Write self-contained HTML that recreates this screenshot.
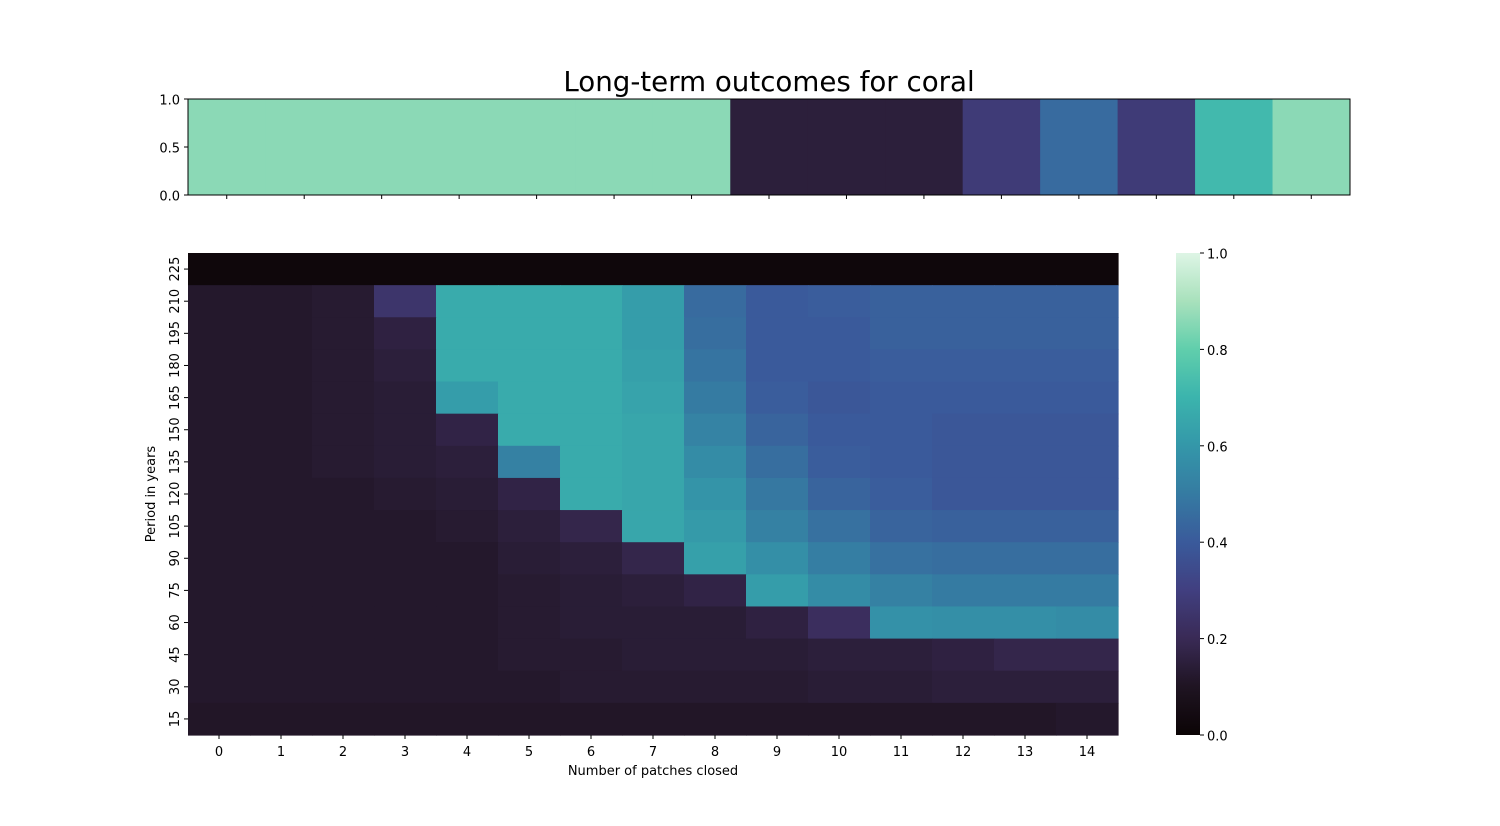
<!DOCTYPE html>
<html><head><meta charset="utf-8"><style>
body{margin:0;background:#fff;}
svg{display:block;font-family:"DejaVu Sans","Liberation Sans",sans-serif;}
</style></head><body>
<svg id="fig" width="1500" height="826" xmlns="http://www.w3.org/2000/svg">
<text x="769" y="91" font-size="27.7" text-anchor="middle" fill="#000">Long-term outcomes for coral</text>
<g id="topStrip"></g>
<g id="heatG"></g>
<g id="cbarG"></g>
<text x="653" y="775" font-size="13" text-anchor="middle">Number of patches closed</text>
<text transform="translate(155,494) rotate(-90)" font-size="13" text-anchor="middle">Period in years</text>
</svg>
<script>
const columns=[0,1,2,3,4,5,6,7,8,9,10,11,12,13,14];
const periods=[225,210,195,180,165,150,135,120,105,90,75,60,45,30,15];
const stripValues=[0.86,0.86,0.86,0.86,0.86,0.86,0.86,0.15,0.15,0.15,0.28,0.45,0.28,0.72,0.86];
const stripTicks=[0.0,0.5,1.0];
const cbarTicks=[0.0,0.2,0.4,0.6,0.8,1.0];
const r225=[0.02,0.02,0.02,0.02,0.02,0.02,0.02,0.02,0.02,0.02,0.02,0.02,0.02,0.02,0.02];
const r210=[0.12,0.12,0.13,0.25,0.67,0.67,0.67,0.62,0.45,0.40,0.41,0.42,0.42,0.42,0.42];
const r195=[0.12,0.12,0.13,0.16,0.67,0.67,0.67,0.62,0.46,0.40,0.40,0.42,0.42,0.42,0.42];
const r180=[0.12,0.12,0.13,0.15,0.67,0.67,0.67,0.63,0.48,0.40,0.40,0.41,0.41,0.41,0.41];
const r165=[0.12,0.12,0.13,0.14,0.62,0.67,0.67,0.64,0.50,0.41,0.39,0.40,0.40,0.40,0.40];
const r150=[0.12,0.12,0.13,0.14,0.17,0.67,0.67,0.65,0.53,0.43,0.40,0.40,0.39,0.39,0.39];
const r135=[0.12,0.12,0.13,0.14,0.15,0.52,0.67,0.65,0.56,0.46,0.41,0.40,0.39,0.39,0.39];
const r120=[0.12,0.12,0.12,0.13,0.14,0.17,0.67,0.65,0.59,0.49,0.43,0.41,0.39,0.39,0.39];
const r105=[0.12,0.12,0.12,0.12,0.13,0.15,0.18,0.65,0.61,0.52,0.47,0.43,0.42,0.42,0.42];
const r90=[0.12,0.12,0.12,0.12,0.12,0.14,0.15,0.18,0.63,0.57,0.51,0.47,0.46,0.46,0.46];
const r75=[0.12,0.12,0.12,0.12,0.12,0.13,0.14,0.15,0.17,0.62,0.56,0.52,0.50,0.50,0.50];
const r60=[0.12,0.12,0.12,0.12,0.12,0.13,0.14,0.14,0.14,0.16,0.22,0.58,0.57,0.57,0.56];
const r45=[0.12,0.12,0.12,0.12,0.12,0.13,0.13,0.14,0.14,0.14,0.15,0.15,0.16,0.18,0.18];
const r30=[0.12,0.12,0.12,0.12,0.12,0.12,0.13,0.13,0.13,0.13,0.14,0.14,0.15,0.15,0.15];
const r15=[0.11,0.11,0.11,0.11,0.11,0.11,0.11,0.11,0.11,0.11,0.11,0.11,0.11,0.11,0.12];
const grid=[r225,r210,r195,r180,r165,r150,r135,r120,r105,r90,r75,r60,r45,r30,r15];

const stops=[[0,"#0B0405"],[0.1,"#1F1422"],[0.2,"#392A55"],[0.3,"#413F80"],[0.4,"#3A5A9B"],[0.5,"#357BA2"],[0.6,"#3497A9"],[0.7,"#3BB4AD"],[0.8,"#60CEAC"],[0.9,"#A8E1BC"],[1,"#DEF5E5"]];
function hex(h){return [1,3,5].map(i=>parseInt(h.substr(i,2),16));}
function cmap(v){v=Math.max(0,Math.min(1,v));for(let i=1;i<stops.length;i++){if(v<=stops[i][0]){const a=stops[i-1],b=stops[i];const t=(v-a[0])/(b[0]-a[0]);const A=hex(a[1]),B=hex(b[1]);return "rgb("+A.map((x,k)=>Math.round(x+(B[k]-x)*t)).join(",")+")";}}return stops[stops.length-1][1];}
const NS="http://www.w3.org/2000/svg";
function mk(tag,attrs,parent,text){const e=document.createElementNS(NS,tag);for(const k in attrs)e.setAttribute(k,attrs[k]);if(text!==undefined)e.textContent=text;parent.appendChild(e);return e;}

// top strip
const stripG=document.getElementById('topStrip');
const TX0=188,TX1=1350,TY0=99,TY1=195;
const sx=i=>TX0+(TX1-TX0)*i/stripValues.length;
const sy=v=>TY1-(TY1-TY0)*v;
stripValues.forEach((v,i)=>{
 const r=mk('rect',{x:sx(i),y:TY0,width:sx(i+1)-sx(i)+0.5,height:TY1-TY0,fill:cmap(v)},stripG);
 
 
 const t=mk('line',{x1:(sx(i)+sx(i+1))/2,x2:(sx(i)+sx(i+1))/2,y1:TY1,y2:TY1+4,stroke:'#000'},stripG);
 
 
});
mk('rect',{x:TX0,y:TY0,width:TX1-TX0,height:TY1-TY0,fill:'none',stroke:'#000','stroke-width':1},stripG);
stripTicks.forEach(v=>{
 mk('line',{x1:TX0-4,x2:TX0,y1:sy(v),y2:sy(v),stroke:'#000'},stripG);
 const t=mk('text',{x:TX0-8,y:sy(v)+5.5,'font-size':13,'text-anchor':'end'},stripG,v.toFixed(1));
 
 
});

// heatmap
const heatG=document.getElementById('heatG');
const HX0=188,HX1=1118,HY0=253,HY1=735;
const cw=(HX1-HX0)/columns.length,ch=(HY1-HY0)/periods.length;
const hx=i=>HX0+cw*i, hy=j=>HY0+ch*j;
grid.forEach((row,j)=>row.forEach((v,i)=>{
 const r=mk('rect',{x:hx(i),y:hy(j),width:cw+0.6,height:ch+0.6,fill:cmap(v)},heatG);
 
 
}));
columns.forEach((c,i)=>{
 const x=hx(i)+cw/2;
 mk('line',{x1:x,x2:x,y1:HY1,y2:HY1+4,stroke:'#000'},heatG);
 const t=mk('text',{x:x,y:HY1+21,'font-size':13,'text-anchor':'middle'},heatG,c);
 
 
});
periods.forEach((p,j)=>{
 const y=hy(j)+ch/2;
 mk('line',{x1:HX0-4,x2:HX0,y1:y,y2:y,stroke:'#000'},heatG);
 const t=mk('text',{transform:`translate(${HX0-9},${y}) rotate(-90)`,'font-size':13,'text-anchor':'middle'},heatG,p);
 
 
});

// colorbar
const cbG=document.getElementById('cbarG');
const CX0=1176,CX1=1200,CY0=253,CY1=735;
const defs=mk('defs',{},cbG);
const lg=mk('linearGradient',{id:'cg',x1:0,y1:1,x2:0,y2:0},defs);
for(let k=0;k<=50;k++){mk('stop',{offset:k/50,'stop-color':cmap(k/50)},lg);}
mk('rect',{x:CX0,y:CY0,width:CX1-CX0,height:CY1-CY0,fill:'url(#cg)'},cbG);
cbarTicks.forEach(v=>{
 const y=CY1-(CY1-CY0)*v;
 mk('line',{x1:CX1,x2:CX1+4,y1:y,y2:y,stroke:'#000'},cbG);
 const t=mk('text',{x:CX1+7,y:y+5.5,'font-size':13},cbG,v.toFixed(1));
 
 
});
</script>
</body></html>
